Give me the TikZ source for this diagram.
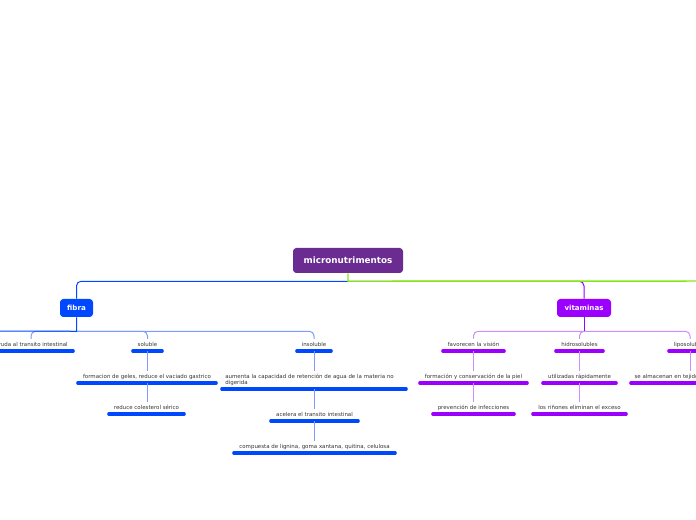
\documentclass[tikz,border=0pt]{standalone}
\usepackage{fontspec}
\setmainfont{DejaVu Sans}
\definecolor{rootpurple}{RGB}{106,44,145}
\definecolor{fibblue}{RGB}{0,72,255}
\definecolor{fiblight}{RGB}{125,155,255}
\definecolor{vitpurple}{RGB}{155,0,255}
\definecolor{vitlight}{RGB}{205,140,255}
\definecolor{branchgreen}{RGB}{130,232,20}
\tikzset{
  topic/.style={fill=#1, text=white, rounded corners=2.5pt, inner sep=0pt,
    font=\bfseries\fontsize{5.3}{6}\selectfont, minimum height=13.5pt},
  leaf/.style={anchor=south, minimum width=0.75pt*#1, inner xsep=0pt,
    inner ysep=2.3pt, text depth=1pt, text=black!80,
    font=\fontsize{4.1}{4.5}\selectfont},
  bar/.style={line width=2.3pt, line cap=round},
  link/.style={line width=0.75pt, rounded corners=3.5pt}
}
\begin{document}
\begin{tikzpicture}[x=0.75pt, y=-0.75pt]
	\useasboundingbox (0,0) rectangle (696,520);
	\clip (0,0) rectangle (696,520);
	% main topics
	\node[topic=rootpurple, minimum width=82.5pt, minimum height=18.75pt,
	  font=\bfseries\fontsize{6.6}{7}\selectfont] (root) at (348,260.5) {micronutrimentos};
	\node[topic=fibblue, minimum width=24.75pt] (fibra) at (76.5,308) {fibra};
	\node[topic=vitpurple, minimum width=40.5pt] (vit) at (584,308) {vitaminas};
	\coordinate (offright) at (710,281);
	\coordinate (offleft) at (-20,331);
	% fibra
	\node[leaf=84] (ayuda) at (31,351) {ayuda al transito intestinal};
	\node[leaf=29] (sol) at (147.5,351) {soluble};
	\node[leaf=138] (geles) at (147,383) {formacion de geles, reduce el vaciado gastrico};
	\node[leaf=75] (colest) at (146.5,414) {reduce colesterol sérico};
	\node[leaf=34] (insol) at (314,351) {insoluble};
	\node[leaf=184, text width=133pt, align=left, text depth=5.5pt] (aumenta) at (314,389)
	  {aumenta la capacidad de retención de agua de la materia no\\digerida};
	\node[leaf=87] (acelera) at (314.5,421) {acelera el transito intestinal};
	\node[leaf=161] (compuesta) at (314.5,453) {compuesta de lignina, goma xantana, quitina, celulosa};
	% vitaminas
	\node[leaf=61] (vision) at (473.5,351) {favorecen la visión};
	\node[leaf=107] (piel) at (473.5,383) {formación y conservación de la piel};
	\node[leaf=81] (infec) at (473.5,414) {prevención de infecciones};
	\node[leaf=47] (hidro) at (579.5,351) {hidrosolubles};
	\node[leaf=73] (rapid) at (579.5,383) {utilizadas rápidamente};
	\node[leaf=93] (exceso) at (579.5,414) {los riñones eliminan el exceso};
	\node[leaf=42] (lipo) at (690,351) {liposolubles};
	\node[leaf=94] (tejido) at (678,383) {se almacenan en tejido adiposo};
	% bars
	\foreach \n in {ayuda,sol,geles,colest,insol,aumenta,acelera,compuesta}
		\draw[bar, fibblue] (\n.south west) -- (\n.south east);
	\foreach \n in {vision,piel,infec,hidro,rapid,exceso,lipo,tejido}
		\draw[bar, vitpurple] (\n.south west) -- (\n.south east);
	% links from the root
	\draw[link, vitpurple] (root.south) ++(0,8) -| (vit.north);
	\draw[link, fibblue] (root.south) ++(0,8) -| (fibra.north);
	\draw[line width=1.1pt, branchgreen] (root.south) -- ++(0,8) -- (offright);
	% links of fibra
	\foreach \n in {ayuda,sol,insol}
		\draw[link, fiblight] (fibra.south) ++(0,14) -| (\n.north);
	\draw[line width=0.75pt, fibblue] (fibra.south) -- ++(0,14) -- (offleft);
	\foreach \a/\b in {sol/geles,geles/colest,insol/aumenta,aumenta/acelera,acelera/compuesta}
		\draw[link, fiblight] (\a.south) -- (\a.south |- \b.north);
	% links of vitaminas
	\foreach \n in {vision,hidro,lipo}
		\draw[link, vitlight] (vit.south) ++(0,14) -| (\n.north);
	\draw[link, vitpurple] (vit.south) -- ++(0,14);
	\foreach \a/\b in {vision/piel,piel/infec,hidro/rapid,rapid/exceso,lipo/tejido}
		\draw[link, vitlight] (\a.south) -- (\a.south |- \b.north);
\end{tikzpicture}
\end{document}
